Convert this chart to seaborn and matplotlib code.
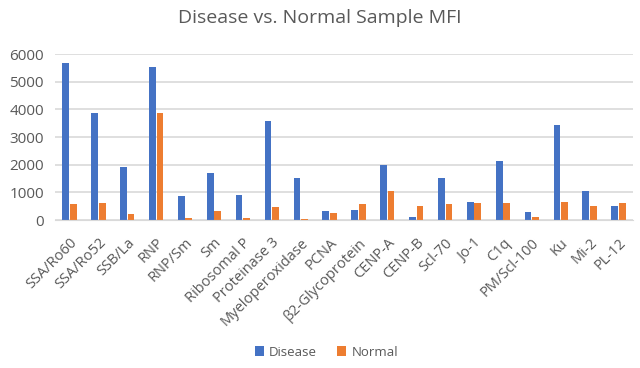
import matplotlib
matplotlib.use("Agg")
import matplotlib.pyplot as plt
import seaborn as sns
import pandas as pd

categories = ["SSA/Ro60", "SSA/Ro52", "SSB/La", "RNP", "RNP/Sm", "Sm", "Ribosomal P",
              "Proteinase 3", "Myeloperoxidase", "PCNA", "β2-Glycoprotein", "CENP-A",
              "CENP-B", "Scl-70", "Jo-1", "C1q", "PM/Scl-100", "Ku", "Mi-2", "PL-12"]
disease = [5665, 3860, 1925, 5530, 880, 1700, 900, 3595, 1530, 315, 375, 1990,
           95, 1505, 650, 2120, 290, 3445, 1050, 495]
normal = [580, 625, 205, 3860, 60, 315, 75, 460, 45, 255, 590, 1035,
          495, 565, 625, 600, 95, 650, 495, 625]
series = ["Disease", "Normal"]
yticks = [0, 1000, 2000, 3000, 4000, 5000, 6000]

df = pd.DataFrame({
    "Antigen": categories * 2,
    "MFI": disease + normal,
    "Sample": [series[0]] * len(categories) + [series[1]] * len(categories),
})

sns.set_style("white")
plt.rcParams["font.family"] = ["Open Sans", "DejaVu Sans"]
txt = "#595959"

fig = plt.figure(figsize=(6.4, 3.68), dpi=100)
ax = fig.add_axes([0.086, 0.402, 0.903, 0.451])
sns.barplot(data=df, x="Antigen", y="MFI", hue="Sample", order=categories,
            hue_order=series, palette=["#4472C4", "#ED7D31"], width=0.52, gap=0.1,
            saturation=1, linewidth=0, ax=ax, legend=True)

ax.set_ylim(0, 6000)
ax.set_xlim(-0.5, len(categories) - 0.5)
ax.set_yticks(yticks)
ax.set_yticklabels([str(v) for v in yticks], color=txt, fontsize=11)
ax.yaxis.grid(True, color="#D9D9D9", linewidth=1.2)
ax.set_axisbelow(True)
for s in ["top", "right", "left"]:
    ax.spines[s].set_visible(False)
ax.spines["bottom"].set_color("#D9D9D9")
ax.tick_params(axis="y", length=0, pad=8)
ax.tick_params(axis="x", length=0, pad=11)
ax.set_xticks(range(len(categories)))
ax.set_xticklabels(categories, rotation=45, ha="right", rotation_mode="anchor",
                   fontsize=10.5, color=txt)
ax.set_xlabel("")
ax.set_ylabel("")

fig.suptitle("Disease vs. Normal Sample MFI", x=0.5, y=0.975, fontsize=14, color=txt)

handles, labels = ax.get_legend_handles_labels()
ax.legend_.remove()
fig.legend(handles, labels, loc="center", bbox_to_anchor=(0.51, 0.043), ncol=2,
           frameon=False, fontsize=9.5, handlelength=0.7, handleheight=0.7,
           columnspacing=1.5, handletextpad=0.4, labelcolor=txt)

fig.savefig("out.png", dpi=100)
